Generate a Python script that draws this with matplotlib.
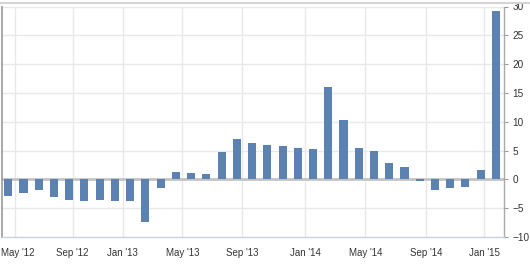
import matplotlib
matplotlib.use("Agg")
import matplotlib.pyplot as plt
from matplotlib.lines import Line2D
from matplotlib.transforms import ScaledTranslation

values = [-2.9, -2.4, -1.9, -3.0, -3.5, -3.8, -3.5, -3.7, -3.8, -7.4, -1.45,
          1.3, 1.05, 0.87, 4.8, 6.95, 6.27, 6.04, 5.8, 5.4, 5.2, 16.0, 10.3,
          5.4, 4.9, 2.8, 2.1, -0.3, -1.9, -1.45, -1.3, 1.6, 29.3]
tick_labels = ["May '12", "Sep '12", "Jan '13", "May '13", "Sep '13",
               "Jan '14", "May '14", "Sep '14", "Jan '15"]
tick_pos = [0.46, 4.23, 7.51, 11.42, 15.35, 19.49, 23.43, 27.41, 31.23]
yticks = [-10, -5, 0, 5, 10, 15, 20, 25, 30]

W, H = 530, 268
fig = plt.figure(figsize=(W / 100, H / 100), dpi=100)
plt.rcParams['font.family'] = ['Liberation Sans', 'DejaVu Sans']

left, right = 2 / W, 504 / W
bottom, top = 1 - 237 / H, 1 - 6.5 / H
ax = fig.add_axes([left, bottom, right - left, top - bottom])

x = list(range(len(values)))
ax.bar(x, values, width=0.53, color='#5b82b0', zorder=3)

ax.set_xlim(-0.41, 32.53)
ax.set_ylim(-10, 30)
ax.set_yticks(yticks)
ax.set_xticks(tick_pos)
ax.set_xticklabels(tick_labels)

ax.grid(True, color='#e8e8e8', linewidth=1.0, zorder=0)
ax.axhline(0, color='#c4c4c4', linewidth=2.0, zorder=2)

ax.yaxis.tick_right()
ax.tick_params(axis='y', length=3, width=0.8, color='#999999', pad=3,
               labelsize=7.2, labelcolor='#333333')
ax.tick_params(axis='x', length=0, pad=8, labelsize=7.0, labelcolor='#333333')
for lbl in ax.get_yticklabels():
    lbl.set_horizontalalignment('left')

first = ax.get_xticklabels()[0]
first.set_transform(first.get_transform() + ScaledTranslation(2 / 100, 0, fig.dpi_scale_trans))

ax.spines['top'].set_visible(False)
ax.spines['left'].set_color('#999999')
ax.spines['left'].set_linewidth(1.2)
ax.spines['right'].set_color('#aaaaaa')
ax.spines['right'].set_linewidth(1.0)
ax.spines['bottom'].set_color('#c8d2e0')
ax.spines['bottom'].set_linewidth(1.0)

fig.add_artist(Line2D([0, 1], [1 - 3 / H, 1 - 3 / H], transform=fig.transFigure,
                      color='#d4d4d4', linewidth=1.5))

fig.savefig('out.png', dpi=100)
